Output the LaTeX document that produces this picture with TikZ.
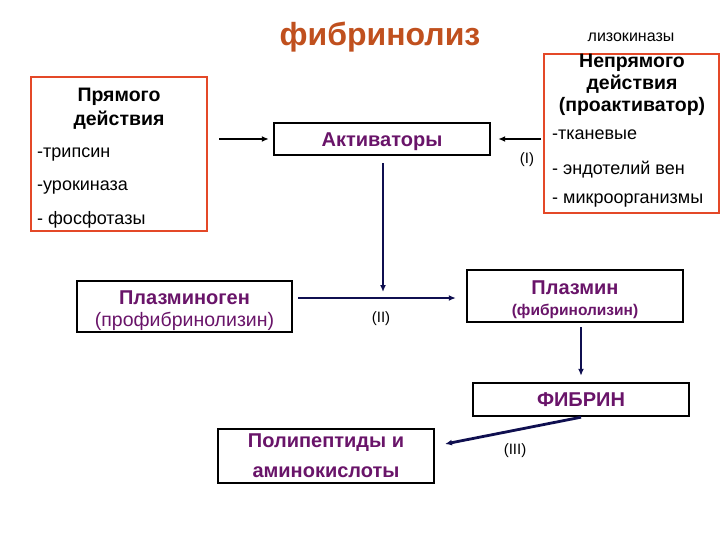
\documentclass[tikz,border=0pt]{standalone}
\usepackage{fontspec}
\setmainfont{Liberation Sans}
\usetikzlibrary{arrows.meta}
\definecolor{titlec}{RGB}{192,80,30}
\definecolor{purp}{RGB}{105,20,105}
\definecolor{navy}{RGB}{15,15,80}
\definecolor{redb}{RGB}{228,72,40}
\begin{document}
\begin{tikzpicture}[x=1pt,y=-1pt,
  box/.style={draw=black,line width=2.4pt,inner sep=0pt,rectangle,text=purp,font=\fontsize{20}{24}\selectfont\bfseries,align=center},
  redbox/.style={draw=redb,line width=2pt,inner sep=0pt,rectangle},
  txt/.style={inner sep=0pt,font=\fontsize{18}{20}\selectfont},
  btxt/.style={inner sep=0pt,font=\fontsize{19.5}{21}\selectfont\bfseries},
  lbl/.style={inner sep=0pt,font=\fontsize{15}{17}\selectfont},
  blk/.style={draw=black,line width=2.2pt,-{Latex[length=7pt,width=6pt]}},
  nav/.style={draw=navy,line width=2.8pt,-{Latex[length=7pt,width=6pt]}}]
\useasboundingbox (0,0) rectangle (720,540);
% title
\node[inner sep=0pt,text=titlec,font=\fontsize{32}{36}\selectfont\bfseries] (title) at (380,37) {фибринолиз};
\node[lbl,font=\fontsize{16}{18}\selectfont] (lizo) at (631,37) {лизокиназы};
% left box
\node[redbox,minimum width=176pt,minimum height=154pt] (lb) at (119,154) {};
\node[btxt] (lb1) at (119,97) {Прямого};
\node[btxt] (lb2) at (119,120) {действия};
\node[txt,anchor=west] (lb3) at (37,155) {-трипсин};
\node[txt,anchor=west] (lb4) at (37,188) {-урокиназа};
\node[txt,anchor=west] (lb5) at (37,220) {- фосфотазы};
% right box
\node[redbox,minimum width=175pt,minimum height=159pt] (rb) at (631.5,133.5) {};
\node[btxt] (rb1) at (632,63) {Непрямого};
\node[btxt] (rb2) at (632,84) {действия};
\node[btxt] (rb3) at (632,106) {(проактиватор)};
\node[txt,anchor=west] (rb4) at (552,135) {-тканевые};
\node[txt,anchor=west] (rb5) at (552,170) {- эндотелий вен};
\node[txt,anchor=west] (rb6) at (552,201) {- микроорганизмы};
% main boxes
\node[box,minimum width=216pt,minimum height=32pt] (act) at (382,139) {\rule{0pt}{18.5pt}Активаторы};
\node[box,minimum width=215pt,minimum height=51pt] (pg) at (184.5,306.5) {\rule{0pt}{22pt}Плазминоген\\[-2pt]{\mdseries\fontsize{19.5}{22}\selectfont(профибринолизин)}};
\node[box,minimum width=216pt,minimum height=52pt] (pm) at (575,296) {\rule{0pt}{20.5pt}Плазмин\\[-3pt]{\fontsize{15.5}{17}\selectfont(фибринолизин)}};
\node[box,minimum width=216pt,minimum height=33pt] (fib) at (581,399.5) {ФИБРИН};
\node[box,minimum width=216pt,minimum height=54pt,font=\fontsize{20}{30}\selectfont\bfseries] (poly) at (326,456) {Полипептиды и\\аминокислоты};
% labels
\node[lbl] (l1) at (527,160) {(I)};
\node[lbl] (l2) at (381,319) {(II)};
\node[lbl] (l3) at (515,451) {(III)};
% connectors
\coordinate (j) at (383,298);
\coordinate (pe) at (445,444);
\draw[blk,shorten <=11pt,shorten >=4pt] (lb.east |- act.west) -- (act.west);
\draw[blk,shorten <=2pt,shorten >=7pt] (rb.west |- act.east) -- (act.east);
\draw[nav,shorten <=7pt,shorten >=6pt] (j |- act.south) -- (j);
\draw[nav,shorten <=5pt,shorten >=10pt] (pg.east |- j) -- (pm.west |- j);
\draw[nav,shorten <=4pt,shorten >=6pt] (fib.north |- pm.south) -- (fib.north);
\draw[nav] (fib.south) -- (pe);
\end{tikzpicture}
\end{document}
